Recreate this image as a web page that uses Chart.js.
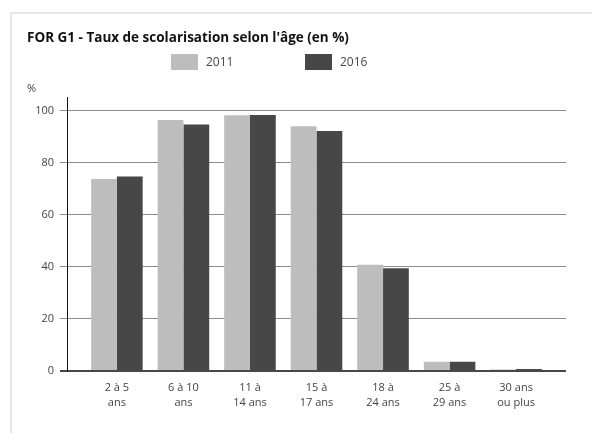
<!DOCTYPE html>
<html>
<head>
<meta charset="utf-8">
<script src="https://cdn.jsdelivr.net/npm/chart.js@4"></script>
<style>
  html, body { margin: 0; padding: 0; background: #fff; overflow: hidden; }
  #frame { position: absolute; left: 10px; top: 12px; width: 700px; height: 600px;
           border-left: 2px solid #e6e6e6; border-top: 2px solid #e6e6e6; }
  #wrap { position: absolute; left: 0; top: 0; width: 592px; height: 433px; }
</style>
</head>
<body>
<div id="frame"></div>
<div id="wrap"><canvas id="chart" width="592" height="433"></canvas></div>
<script>
  // values
  var CATEGORIES = [['2 à 5', 'ans'], ['6 à 10', 'ans'], ['11 à', '14 ans'], ['15 à', '17 ans'],
                    ['18 à', '24 ans'], ['25 à', '29 ans'], ['30 ans', 'ou plus']];
  var SERIES_NAMES = ['2011', '2016'];
  var VALUES_2011 = [73.8, 96.4, 98.3, 94.0, 40.8, 3.5, 0.6];
  var VALUES_2016 = [74.7, 94.7, 98.4, 92.2, 39.5, 3.5, 0.8];
  var Y_TICKS = [0, 20, 40, 60, 80, 100];
  var COLORS = ['#bdbdbd', '#474747'];

  Chart.defaults.font.family = "'Open Sans', sans-serif";
  Chart.defaults.color = '#444';

  function toPoints(arr) {
    return arr.map(function (v, i) { return { x: i, y: v }; });
  }

  // legend row drawn from the datasets (spacing of the original is wider than Chart.js allows)
  var legendRow = {
    id: 'legendRow',
    afterDraw: function (chart, args, opts) {
      var ctx = chart.ctx;
      ctx.save();
      ctx.font = '12px "Open Sans", sans-serif';
      ctx.textBaseline = 'middle';
      ctx.textAlign = 'left';
      chart.data.datasets.forEach(function (ds, i) {
        var x = opts.xs[i];
        ctx.fillStyle = ds.backgroundColor;
        ctx.fillRect(x, opts.top, opts.boxW, opts.boxH);
        ctx.fillStyle = '#444';
        ctx.fillText(ds.label, x + opts.boxW + 8, opts.top + opts.boxH / 2 + 0.5);
      });
      ctx.restore();
    }
  };

  new Chart(document.getElementById('chart'), {
    type: 'bar',
    data: {
      datasets: [
        { label: SERIES_NAMES[0], data: toPoints(VALUES_2011), backgroundColor: COLORS[0] },
        { label: SERIES_NAMES[1], data: toPoints(VALUES_2016), backgroundColor: COLORS[1] }
      ]
    },
    options: {
      responsive: false,
      animation: false,
      categoryPercentage: 0.775,
      barPercentage: 1.0,
      layout: { padding: { top: 14, left: 27, right: 26, bottom: 13 } },
      plugins: {
        legend: { display: false },
        tooltip: { enabled: false },
        title: {
          display: true, align: 'start', color: '#111',
          text: "FOR G1 - Taux de scolarisation selon l'âge (en %)",
          font: { size: 13.5, weight: 'bold', lineHeight: 1.15 },
          padding: { top: 16, bottom: 0 }
        },
        subtitle: {
          display: true, align: 'start', color: '#444', text: '%',
          font: { size: 11 },
          padding: { top: 37, bottom: 2 }
        },
        legendRow: { xs: [171, 305], top: 54, boxW: 27, boxH: 16 }
      },
      scales: {
        x: {
          type: 'linear', offset: false,
          min: -0.75, max: 6.75,
          grid: { display: false, drawTicks: false },
          border: { display: false },
          afterBuildTicks: function (s) {
            s.ticks = CATEGORIES.map(function (c, i) { return { value: i }; });
          },
          ticks: {
            autoSkip: false, maxRotation: 0, padding: 10,
            font: { size: 11, lineHeight: 1.32 }, color: '#444',
            callback: function (v) { return CATEGORIES[v]; }
          }
        },
        y: {
          min: 0, max: 105, z: 1,
          afterBuildTicks: function (s) {
            s.ticks = Y_TICKS.map(function (v) { return { value: v }; });
          },
          afterFit: function (s) { s.width = 40; },
          grid: {
            tickLength: 7,
            color: function (c) { return c.tick && c.tick.value === 0 ? 'rgba(40,40,40,0.85)' : 'rgba(0,0,0,0.45)'; },
            lineWidth: function (c) { return c.tick && c.tick.value === 0 ? 2 : 1; }
          },
          border: { display: true, color: '#111', width: 1 },
          ticks: { padding: 6, font: { size: 11 }, color: '#444' }
        }
      }
    },
    plugins: [legendRow]
  });
</script>
</body>
</html>
